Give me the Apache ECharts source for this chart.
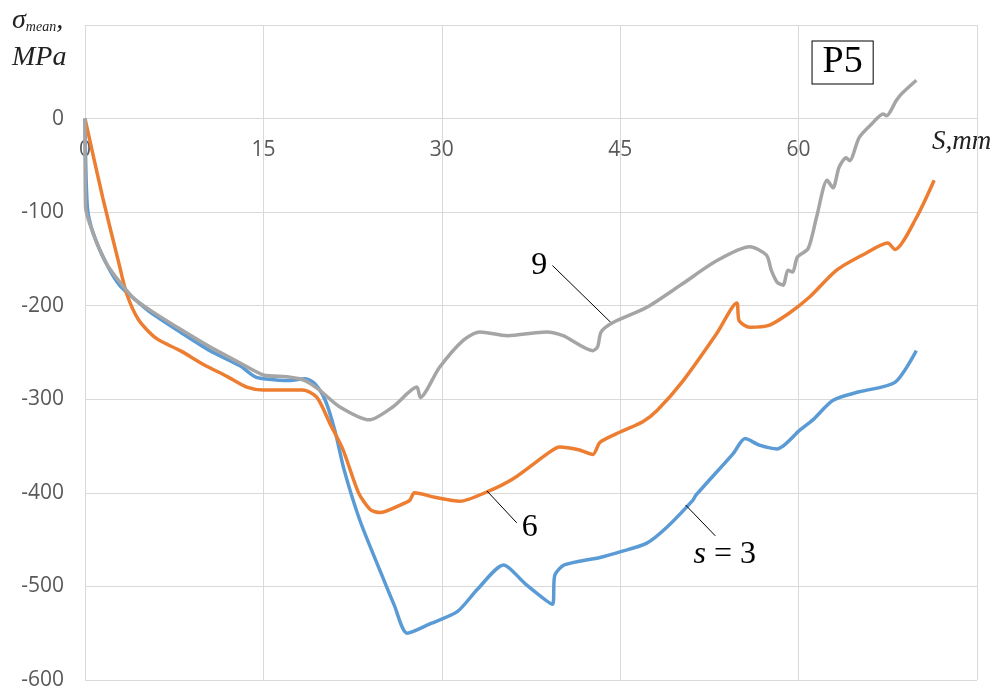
<!DOCTYPE html>
<html>
<head>
<meta charset="utf-8">
<script src="https://cdn.jsdelivr.net/npm/echarts@6/dist/echarts.min.js"></script>
<style>
html, body { margin: 0; padding: 0; background: #fff; }
#main { width: 1004px; height: 691px; }
</style>
</head>
<body>
<div id="main"></div>
<script>
// s = 3 (blue)
var s3Data = [
  [0, 0], [0.2, -95], [0.7, -123], [1.8, -155], [2.9, -178], [4, -191], [5.5, -207], [8, -228],
  [10.5, -248], [13, -264], [14.3, -276], [15, -278], [17.2, -280], [18.5, -278], [19.3, -283],
  [20.2, -301], [21, -333], [21.8, -376], [23.1, -429], [24.8, -483], [26, -520], [27.1, -550],
  [29, -540], [31.3, -527], [33, -503], [35.2, -477], [37, -497], [39.3, -519], [39.5, -488],
  [40.3, -477], [43.3, -469], [45, -463], [47.2, -454], [48.9, -437], [51.1, -408], [51.4, -402],
  [54.5, -358], [55.5, -342], [56.7, -349], [58.2, -353], [60.1, -333], [61.2, -322], [62.9, -301],
  [65.1, -292], [68.1, -282], [69.9, -248]
];
// 6 (orange)
var s6Data = [
  [0, 0], [1.5, -85], [2.8, -152], [3.5, -187], [4.5, -215], [6, -235], [8, -248], [10, -263],
  [12, -276], [13.6, -287], [15, -290], [17, -290], [18.3, -290], [19.5, -298], [20.6, -326],
  [21.7, -354], [23, -400], [24, -418], [24.8, -421], [26.5, -413], [27.3, -408], [27.7, -400],
  [29.5, -405], [31.5, -409], [33.8, -399], [36, -385], [39, -357], [39.9, -351], [41.5, -354],
  [42.7, -359], [43.3, -346], [45, -335], [46.9, -324], [48.1, -312], [50.3, -280], [53.1, -230],
  [54.8, -197], [55, -216], [55.9, -223], [57.5, -221], [59.2, -208], [60.9, -191], [63.2, -162],
  [65.5, -145], [67.5, -133], [68.1, -140], [69.9, -106], [71.4, -66]
];
// 9 (gray)
var s9Data = [
  [0, 0], [0.05, -95], [0.7, -123], [1.8, -155], [4, -191], [5.5, -205], [8, -225], [10.5, -244],
  [13, -261], [15, -274], [17, -276], [18.5, -280], [19.7, -290], [21.4, -308], [23.9, -322],
  [25.9, -308], [27.9, -287], [28.2, -298], [29.8, -266], [31.8, -237], [33.2, -228], [35.5, -232],
  [38.8, -228], [40.2, -232], [42.7, -248], [43.1, -244], [43.4, -228], [44.4, -218], [47.2, -202],
  [50.3, -176], [53.1, -152], [55.9, -137], [57.3, -146], [57.7, -162], [58.2, -175], [58.7, -178],
  [59.1, -162], [59.5, -164], [59.9, -148], [60.8, -139], [61.5, -106], [62.4, -66], [62.9, -74],
  [63.4, -52], [64, -42], [64.3, -45], [65.1, -20], [66.2, -5], [67.1, 5], [67.4, 3], [68.2, 19],
  [68.7, 27], [69.9, 41]
];

var xTicks = [0, 15, 30, 45, 60];
var yTicks = [0, -100, -200, -300, -400, -500, -600];
var yMin = -600, yMax = 100;

var gridColor = '#d9d9d9';
var labelColor = '#595959';
var serif = '"Liberation Serif", "DejaVu Serif", serif';
var sans = '"Open Sans", "Noto Sans", sans-serif';

var gridTop = 25, gridBottom = 11, chartH = 691;
// the x labels sit under the zero line, not under the plot
var zeroOffset = -(chartH - gridTop - gridBottom) * (0 - yMin) / (yMax - yMin);

var myChart = echarts.init(document.getElementById('main'));

function leader(from, to) {
  return {
    type: 'line',
    data: [],
    silent: true,
    markLine: {
      symbol: 'none',
      silent: true,
      animation: false,
      label: { show: false },
      lineStyle: { color: '#000', width: 1, type: 'solid' },
      data: [[{ coord: from }, { coord: to }]]
    }
  };
}

function note(pos, text, size, extra) {
  var lbl = Object.assign({
    show: true,
    position: 'inside',
    formatter: text,
    fontFamily: serif,
    fontSize: size,
    color: '#000'
  }, extra || {});
  return {
    type: 'scatter',
    data: [],
    silent: true,
    markPoint: {
      symbol: 'rect',
      symbolSize: 0,
      silent: true,
      animation: false,
      label: lbl,
      data: [{ coord: pos }]
    }
  };
}

var option = {
  animation: false,
  grid: { left: 85, right: 27, top: gridTop, bottom: gridBottom, containLabel: false, outerBoundsMode: 'none' },
  xAxis: {
    type: 'value',
    min: 0,
    max: 75,
    interval: 15,
    position: 'bottom',
    offset: zeroOffset,
    axisLine: { show: false, onZero: false },
    axisTick: { show: false },
    splitLine: { show: true, lineStyle: { color: gridColor } },
    axisLabel: {
      margin: 21,
      color: labelColor,
      fontSize: 21,
      fontFamily: sans,
      formatter: function (v) { return xTicks.indexOf(v) >= 0 ? String(v) : ''; }
    }
  },
  yAxis: {
    type: 'value',
    min: yMin,
    max: yMax,
    interval: 100,
    axisLine: { show: false },
    axisTick: { show: false },
    splitLine: { show: true, lineStyle: { color: gridColor } },
    axisLabel: {
      margin: 21,
      color: labelColor,
      fontSize: 21,
      fontFamily: sans,
      formatter: function (v) { return yTicks.indexOf(v) >= 0 ? String(v) : ''; }
    }
  },
  graphic: [
    {
      type: 'text',
      left: 12,
      top: 7,
      style: {
        text: '{s|σ}{m|mean}{s|,}\n{u|MPa}',
        rich: {
          s: { fontFamily: serif, fontStyle: 'italic', fontSize: 28, fill: '#222', lineHeight: 34 },
          m: { fontFamily: serif, fontStyle: 'italic', fontSize: 14, fill: '#222', padding: [12, 0, 0, 0] },
          u: { fontFamily: serif, fontStyle: 'italic', fontSize: 28, fill: '#222', lineHeight: 40 }
        }
      }
    },
    {
      type: 'text',
      left: 932,
      top: 128,
      style: {
        text: 'S,mm',
        fontFamily: serif,
        fontStyle: 'italic',
        fontSize: 27,
        fill: '#222',
        backgroundColor: '#fff'
      }
    }
  ],
  series: [
    {
      name: 's = 3',
      type: 'line',
      data: s3Data,
      smooth: 0.25,
      showSymbol: false,
      lineStyle: { color: '#5b9bd5', width: 3.5 },
      z: 3
    },
    {
      name: '6',
      type: 'line',
      data: s6Data,
      smooth: 0.25,
      showSymbol: false,
      lineStyle: { color: '#ed7d31', width: 3.5 },
      z: 4
    },
    {
      name: '9',
      type: 'line',
      data: s9Data,
      smooth: 0.25,
      showSymbol: false,
      lineStyle: { color: '#a5a5a5', width: 3.5 },
      z: 5
    },
    leader([39.3, -157], [44.3, -219]),
    leader([33.8, -398], [36.3, -432]),
    leader([50.5, -413], [53, -446]),
    note([38.2, -157], '9', 32),
    note([37.4, -437], '6', 32),
    note([53.8, -466], '{i|s} = 3', 32, {
      rich: { i: { fontFamily: serif, fontStyle: 'italic', fontSize: 32, color: '#000' } }
    }),
    note([63.7, 60], 'P5', 38, {
      backgroundColor: '#fff',
      borderColor: '#000',
      borderWidth: 1,
      lineHeight: 40,
      padding: [2, 10, 0, 10]
    })
  ]
};

myChart.setOption(option);
</script>
</body>
</html>
